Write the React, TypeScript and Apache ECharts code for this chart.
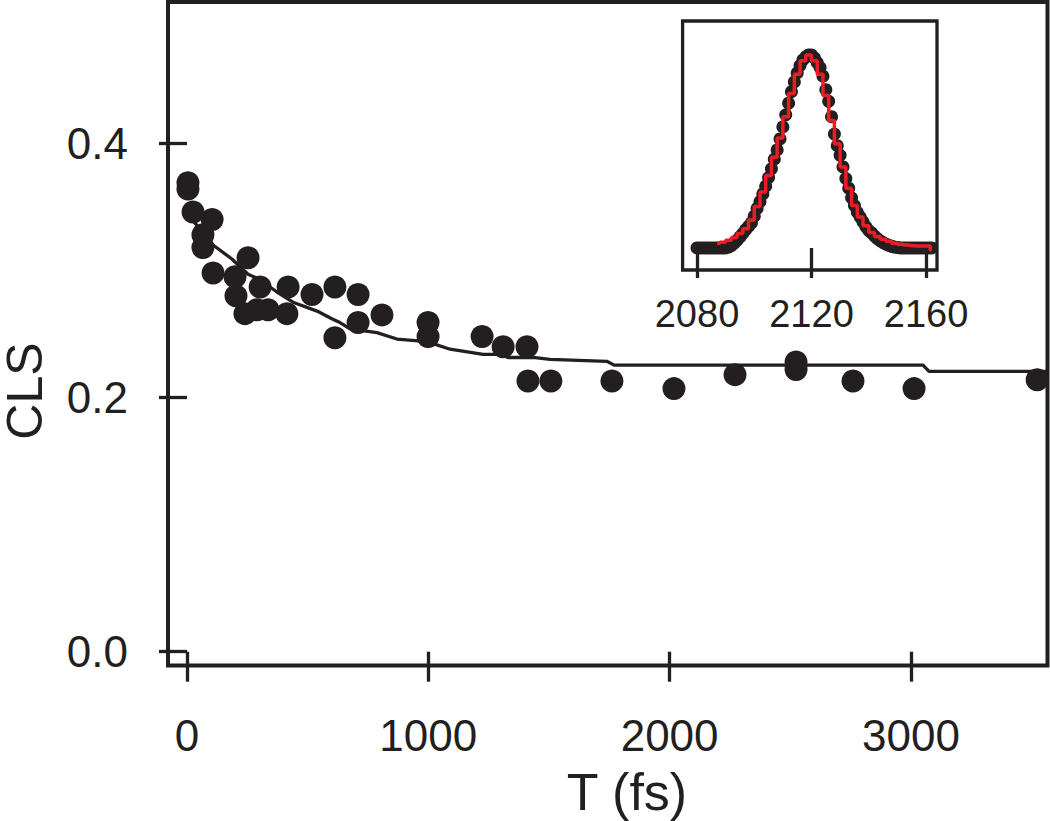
import React, { useEffect, useRef } from "react";
import * as echarts from "echarts";

// Main panel: CLS decay vs waiting time T (fs)
const mainT = [4, 4, 25, 104, 66, 66, 108, 199, 253, 203, 240, 290, 336, 414, 303, 419, 518, 613, 709, 613, 709, 808, 999, 999, 1223, 1310, 1409, 1413, 1508, 1761, 2018, 2271, 2524, 2524, 2760, 3013, 3523];
const mainCLS = [0.369, 0.364, 0.346, 0.340, 0.328, 0.318, 0.298, 0.295, 0.310, 0.280, 0.266, 0.269, 0.269, 0.266, 0.287, 0.287, 0.281, 0.287, 0.281, 0.247, 0.259, 0.265, 0.259, 0.248, 0.248, 0.240, 0.240, 0.213, 0.213, 0.213, 0.207, 0.218, 0.228, 0.222, 0.213, 0.207, 0.214];

// Fit curve (staircase-like as drawn)
const fitT = [30, 108, 186, 253, 300, 373, 439, 539, 600, 634, 676, 787, 870, 995, 1090, 1227, 1300, 1330, 1434, 1504, 1740, 1770, 3050, 3075, 3566];
const fitCLS = [0.338, 0.320, 0.309, 0.297, 0.293, 0.283, 0.275, 0.268, 0.262, 0.259, 0.254, 0.251, 0.246, 0.244, 0.238, 0.234, 0.234, 0.2315, 0.2315, 0.230, 0.2285, 0.2255, 0.2255, 0.2205, 0.2205];

const mainXTicks = [0, 1000, 2000, 3000];
const mainYTicks = [0, 0.2, 0.4];

// Inset: spectrum (cm-1) data points and fit
const insetX = [2080, 2081, 2082, 2083, 2084, 2085, 2086, 2087, 2088, 2089, 2090, 2091, 2092, 2093, 2094, 2095, 2096, 2097, 2098, 2099, 2100, 2101, 2102, 2103, 2104, 2105, 2106, 2107, 2108, 2109, 2110, 2111, 2112, 2113, 2114, 2115, 2116, 2117, 2118, 2119, 2120, 2121, 2122, 2123, 2124, 2125, 2126, 2127, 2128, 2129, 2130, 2131, 2132, 2133, 2134, 2135, 2136, 2137, 2138, 2139, 2140, 2141, 2142, 2143, 2144, 2145, 2146, 2147, 2148, 2149, 2150, 2151, 2152, 2153, 2154, 2155, 2156, 2157, 2158, 2159, 2160, 2161, 2162];
const insetY = [0, 0, 0, 0, 0, 0, 0, 0, 0, 0, 0, 0.005, 0.012, 0.025, 0.04, 0.057, 0.075, 0.095, 0.112, 0.13, 0.165, 0.205, 0.24, 0.28, 0.32, 0.365, 0.41, 0.46, 0.508, 0.565, 0.627, 0.69, 0.75, 0.81, 0.86, 0.907, 0.945, 0.974, 0.99, 1.0, 1.0, 0.985, 0.96, 0.935, 0.89, 0.82, 0.76, 0.68, 0.59, 0.53, 0.48, 0.42, 0.36, 0.31, 0.26, 0.22, 0.185, 0.16, 0.135, 0.11, 0.09, 0.078, 0.062, 0.048, 0.037, 0.028, 0.02, 0.014, 0.009, 0.005, 0.003, 0, 0, 0, 0, 0, 0, 0, 0, 0, 0, 0, 0];
const insetFitX = [2087, 2089, 2091, 2093, 2095, 2097, 2099, 2101, 2103, 2105, 2107, 2109, 2111, 2113, 2115, 2117, 2119, 2121, 2123, 2125, 2127, 2129, 2131, 2133, 2135, 2137, 2139, 2141, 2143, 2145, 2147, 2149, 2151, 2153, 2155, 2157, 2159, 2161, 2162];
const insetFitY = [0.025, 0.03, 0.04, 0.055, 0.075, 0.1, 0.145, 0.215, 0.29, 0.375, 0.47, 0.57, 0.68, 0.8, 0.9, 0.97, 1.0, 0.97, 0.9, 0.79, 0.66, 0.54, 0.42, 0.31, 0.22, 0.16, 0.115, 0.08, 0.06, 0.045, 0.035, 0.025, 0.02, 0.015, 0.012, 0.01, 0.01, 0.01, -0.01];
const insetXTicks = [2080, 2120, 2160];

const INK = "#231f20";
const RED = "#ed1c24";
const FONT = "Liberation Sans, Arial, Helvetica, sans-serif";

export default function App() {
  const ref = useRef<HTMLDivElement>(null);
  useEffect(() => {
    if (!ref.current) return;
    const chart = echarts.init(ref.current, null, { renderer: "svg" });
    const zip = (a: number[], b: number[]) => a.map((v, i) => [v, b[i]]);
    const plain = (v: number) => String(v);
    chart.setOption({
      animation: false,
      backgroundColor: "#ffffff",
      grid: [
        {
          left: 168, top: 2, right: 2.5, bottom: 155.5,
          show: true, borderColor: INK, borderWidth: 4, backgroundColor: "transparent",
          containLabel: false, outerBoundsMode: "none",
        },
        {
          left: 682.6, top: 21, width: 254.4, height: 249,
          show: true, borderColor: INK, borderWidth: 3.3, backgroundColor: "#ffffff",
          containLabel: false, outerBoundsMode: "none", z: 5,
        },
      ],
      xAxis: [
        {
          type: "value", gridIndex: 0, min: -78.7, max: 3566,
          axisLine: { show: false },
          splitLine: { show: false },
          axisTick: { show: true, customValues: mainXTicks, length: 30, lineStyle: { color: INK, width: 3.3 } },
          axisLabel: { customValues: mainXTicks, fontSize: 44, fontFamily: FONT, color: INK, margin: 48, formatter: plain },
        },
        {
          type: "value", gridIndex: 1, min: 2074.97, max: 2163.84, z: 6,
          axisLine: { show: false },
          splitLine: { show: false },
          axisTick: { show: true, customValues: insetXTicks, length: 30, lineStyle: { color: INK, width: 3.3 } },
          axisLabel: { customValues: insetXTicks, fontSize: 38, fontFamily: FONT, color: INK, margin: 25, formatter: plain },
        },
      ],
      yAxis: [
        {
          type: "value", gridIndex: 0, min: -0.01086, max: 0.5112,
          axisLine: { show: false },
          splitLine: { show: false },
          axisTick: { show: true, customValues: mainYTicks, length: 28, lineStyle: { color: INK, width: 3.3 } },
          axisLabel: {
            customValues: mainYTicks, fontSize: 44, fontFamily: FONT, color: INK, margin: 40,
            formatter: (v: number) => v.toFixed(1),
          },
        },
        {
          type: "value", gridIndex: 1, min: -0.114, max: 1.176, z: 6,
          axisLine: { show: false },
          splitLine: { show: false },
          axisTick: { show: false },
          axisLabel: { show: false },
        },
      ],
      series: [
        {
          type: "line", xAxisIndex: 0, yAxisIndex: 0, data: zip(fitT, fitCLS),
          showSymbol: false, symbol: "none", lineStyle: { color: INK, width: 3.3 }, z: 2,
        },
        {
          type: "scatter", xAxisIndex: 0, yAxisIndex: 0, data: zip(mainT, mainCLS),
          symbol: "circle", symbolSize: 23, itemStyle: { color: INK, opacity: 1 }, z: 3,
        },
        {
          type: "scatter", xAxisIndex: 1, yAxisIndex: 1, data: zip(insetX, insetY),
          symbol: "circle", symbolSize: 13, itemStyle: { color: INK, opacity: 1 }, z: 7,
        },
        {
          type: "line", xAxisIndex: 1, yAxisIndex: 1, data: zip(insetFitX, insetFitY),
          step: "middle", showSymbol: false, symbol: "none", lineStyle: { color: RED, width: 3.5 }, z: 8,
        },
      ],
      graphic: [
        {
          type: "text", x: 25, y: 391, rotation: Math.PI / 2,
          style: { text: "CLS", fontSize: 50, lineHeight: 38, fontFamily: FONT, fill: INK, align: "center", verticalAlign: "middle" },
        },
        {
          type: "text", x: 627, y: 792,
          style: { text: "T (fs)", fontSize: 52, lineHeight: 44, fontFamily: FONT, fill: INK, align: "center", verticalAlign: "middle" },
        },
      ],
    });
    return () => chart.dispose();
  }, []);
  return <div ref={ref} style={{ position: "fixed", left: 0, top: 0, width: 1050, height: 821, background: "#fff" }} />;
}
